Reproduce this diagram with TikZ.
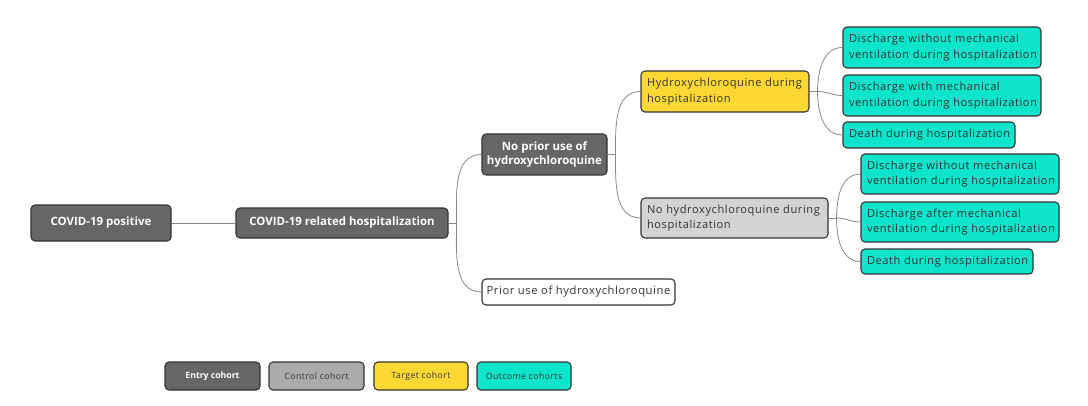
\documentclass[tikz,border=0pt]{standalone}
\usepackage{fontspec}
\setmainfont{Open Sans}
\newfontfamily\widefont[LetterSpace=5.3]{Open Sans}
\usetikzlibrary{calc}
\definecolor{entry}{HTML}{666666}
\definecolor{ctrl}{HTML}{ABABAB}
\definecolor{ctrllight}{HTML}{D3D3D3}
\definecolor{tgt}{HTML}{FDD835}
\definecolor{outc}{HTML}{0CE4CC}
\definecolor{bord}{HTML}{333333}
\definecolor{txt}{HTML}{333333}
\definecolor{linkc}{HTML}{888888}
\begin{document}
\begin{tikzpicture}[x=0.75pt,y=-0.75pt,
  base/.style={draw=bord,line width=0.8pt,rounded corners=3pt,inner ysep=0pt},
  sz/.style 2 args={minimum width=#1*0.75pt,minimum height=#2*0.75pt},
  darkbox/.style={base,fill=entry,text=white,font=\fontsize{8.6pt}{10.5pt}\selectfont\bfseries,align=center,inner xsep=2pt},
  leftbox/.style={base,text=txt,font=\widefont\fontsize{8.3pt}{11.5pt}\selectfont,align=left,inner xsep=4.5pt,text width=#1*0.75pt-9pt},
  legbox/.style={base,font=\widefont\fontsize{6.5pt}{8pt}\selectfont,align=center,minimum width=95*0.75pt,minimum height=28*0.75pt},
  link/.style={draw=linkc,line width=0.6pt}
]
\useasboundingbox[fill=white] (0,0) rectangle (1088,406);

% main tree
\node[darkbox,sz={140}{36}] (pos) at (101,223) {COVID-19 positive};
\node[darkbox,sz={212}{30}] (hosp) at (342,223) {COVID-19 related hospitalization};
\node[darkbox,sz={125}{41}] (noprior) at (544.5,154.5) {No prior use of\\hydroxychloroquine};
\node[base,fill=white,text=txt,sz={193}{26},font=\widefont\fontsize{8.4pt}{10pt}\selectfont,inner xsep=1pt] (prior) at (578.5,292) {Prior use of hydroxychloroquine};
\node[leftbox=168,fill=tgt,minimum height=41*0.75pt] (hcq) at (725,91.5) {Hydroxychloroquine during\\hospitalization};
\node[leftbox=187,fill=ctrllight,minimum height=40*0.75pt] (nohcq) at (734.5,218) {No hydroxychloroquine during\\hospitalization};

\node[leftbox=198,fill=outc,minimum height=41*0.75pt] (o1) at (942,47.5) {Discharge without mechanical\\ventilation during hospitalization};
\node[leftbox=198,fill=outc,minimum height=41*0.75pt] (o2) at (942,95.5) {Discharge with mechanical\\ventilation during hospitalization};
\node[leftbox=172,fill=outc,minimum height=26*0.75pt] (o3) at (929,135) {Death during hospitalization};
\node[leftbox=198,fill=outc,minimum height=40*0.75pt] (o4) at (960,174) {Discharge without mechanical\\ventilation during hospitalization};
\node[leftbox=198,fill=outc,minimum height=40*0.75pt] (o5) at (960,222) {Discharge after mechanical\\ventilation during hospitalization};
\node[leftbox=172,fill=outc,minimum height=25*0.75pt] (o6) at (947,261.5) {Death during hospitalization};

% junctions
\coordinate (jh) at ($(hosp.east)+(8,0)$);
\coordinate (jn) at ($(noprior.east)+(8,0)$);
\coordinate (jy) at ($(hcq.east)+(8,0)$);
\coordinate (jc) at ($(nohcq.east)+(8,0)$);

% connectors
\draw[link] (pos.east) -- (hosp.west);
\draw[link] (hosp.east) -- (jh);
\draw[link] (jh) to[out=90,in=180] (noprior.west);
\draw[link] (jh) to[out=-90,in=180] (prior.west);
\draw[link] (noprior.east) -- (jn);
\draw[link] (jn) to[out=90,in=180] (hcq.west);
\draw[link] (jn) to[out=-90,in=180] (nohcq.west);
\draw[link] (hcq.east) -- (jy);
\draw[link] (jy) to[out=90,in=180] (o1.west);
\draw[link] (jy) to[out=0,in=180] (o2.west);
\draw[link] (jy) to[out=-90,in=180] (o3.west);
\draw[link] (nohcq.east) -- (jc);
\draw[link] (jc) to[out=90,in=180] (o4.west);
\draw[link] (jc) to[out=0,in=180] (o5.west);
\draw[link] (jc) to[out=-90,in=180] (o6.west);

% legend
\node[legbox,fill=entry,text=white,font=\fontsize{6.5pt}{8pt}\selectfont\bfseries] (le) at (212.5,376) {Entry cohort};
\node[legbox,fill=ctrl,text=txt] (lc) at (316.5,376) {Control cohort};
\node[legbox,fill=tgt,text=txt,minimum width=94*0.75pt] (lt) at (421,376) {Target cohort};
\node[legbox,fill=outc,text=txt,minimum width=94*0.75pt] (lo) at (524,376) {Outcome cohorts};
\end{tikzpicture}
\end{document}
